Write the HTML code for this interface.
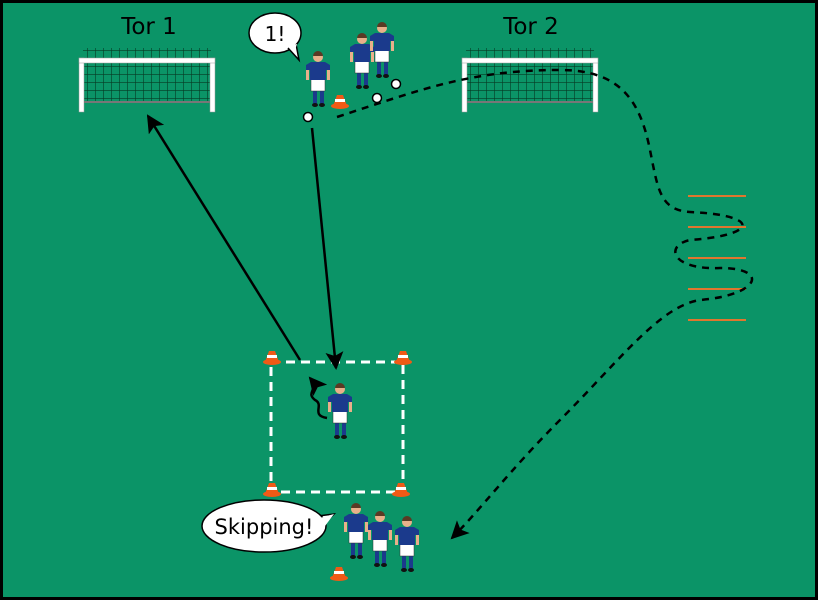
<!DOCTYPE html>
<html><head><style>
html,body{margin:0;padding:0;background:#000}
svg{display:block}
</style></head><body>
<svg width="818" height="600" viewBox="0 0 818 600" xmlns="http://www.w3.org/2000/svg">
<defs>
<marker id="ah2" markerWidth="18" markerHeight="18" refX="16" refY="9" orient="auto" markerUnits="userSpaceOnUse"><path d="M0,0 L18,9 L0,18 L4,9 z" fill="#000"/></marker>
<g id="pl">
<rect x="-5" y="28" width="4" height="14" fill="#1b3a8c"/><rect x="2" y="28" width="4" height="14" fill="#1b3a8c"/>
<ellipse cx="-3" cy="43" rx="3" ry="2" fill="#111"/><ellipse cx="4" cy="43" rx="3" ry="2" fill="#111"/>
<rect x="-7" y="17" width="14" height="12" fill="#fff" stroke="#333" stroke-width="0.5"/>
<rect x="-12" y="5" width="3" height="13" fill="#e9b08a"/><rect x="9" y="5" width="3" height="13" fill="#e9b08a"/>
<path d="M-12,3 L-7,0 L7,0 L12,3 L12,8 L8,8 L8,18 L-8,18 L-8,8 L-12,8 z" fill="#1b3a8c"/>
<circle cx="0" cy="-5" r="5" fill="#e9b08a"/><path d="M-5,-6 A5,5 0 0 1 5,-6 z" fill="#5a3a24"/>
</g>
<g id="cone"><path d="M-3,-9 L3,-9 L7,2 L-7,2 z" fill="#f05a16"/><rect x="-5" y="-5" width="10" height="3" fill="#fff"/><ellipse cx="0" cy="2" rx="9" ry="3" fill="#f05a16"/></g>
<pattern id="net" width="8" height="8" patternUnits="userSpaceOnUse"><path d="M8,0 L0,0 0,8" fill="none" stroke="#063a24" stroke-width="1.2"/></pattern>
<g id="goal">
<rect x="4" y="-10" width="128" height="10" fill="url(#net)"/>
<rect x="4" y="0" width="128" height="44" fill="url(#net)"/>
<rect x="0" y="0" width="5" height="54" fill="#fff" stroke="#999" stroke-width="0.5"/>
<rect x="131" y="0" width="5" height="54" fill="#fff" stroke="#999" stroke-width="0.5"/>
<rect x="0" y="0" width="136" height="5" fill="#fff" stroke="#999" stroke-width="0.5"/>
<line x1="5" y1="44" x2="131" y2="44" stroke="#777" stroke-width="2"/>
</g>
</defs>
<rect x="0" y="0" width="818" height="600" fill="#000"/>
<rect x="3" y="3" width="812" height="594" fill="#0b9467"/>
<text x="149" y="34" font-family="DejaVu Sans, sans-serif" font-size="23" text-anchor="middle" fill="#000">Tor 1</text>
<text x="531" y="34" font-family="DejaVu Sans, sans-serif" font-size="23" text-anchor="middle" fill="#000">Tor 2</text>
<use href="#goal" x="79" y="58"/>
<use href="#goal" x="462" y="58"/>
<!-- speech 1 -->
<ellipse cx="275" cy="33" rx="26" ry="20" fill="#fff" stroke="#000" stroke-width="1.5"/>
<path d="M288,48 L299,60 L296,44" fill="#fff" stroke="#000" stroke-width="1.5"/>
<path d="M286,46 L297,44 L295,50" fill="#fff" stroke="none"/>
<text x="275" y="41" font-family="DejaVu Sans, sans-serif" font-size="20" text-anchor="middle">1!</text>
<!-- ladder -->
<g stroke="#e0762e" stroke-width="2"><line x1="688" y1="196" x2="746" y2="196"/><line x1="688" y1="227" x2="746" y2="227"/><line x1="688" y1="258" x2="746" y2="258"/><line x1="688" y1="289" x2="746" y2="289"/><line x1="688" y1="320" x2="746" y2="320"/></g>
<!-- dashed path -->
<path d="M337,117 C420,90 470,70 560,70 C620,70 640,100 650,150 C658,190 660,210 690,212 C760,215 760,235 690,240 C665,245 670,270 720,268 C770,268 760,295 700,300 C660,306 620,360 560,420 C510,470 480,510 452,538" fill="none" stroke="#000" stroke-width="2.5" stroke-dasharray="7,6" marker-end="url(#ah2)"/>
<!-- square -->
<rect x="271" y="362" width="132" height="130" fill="none" stroke="#fff" stroke-width="3" stroke-dasharray="9,6"/>
<use href="#cone" x="272" y="360"/><use href="#cone" x="403" y="360"/>
<use href="#cone" x="272" y="492"/><use href="#cone" x="401" y="492"/>
<use href="#cone" x="339" y="576"/><use href="#cone" x="340" y="104"/>
<!-- arrows -->
<line x1="300" y1="360" x2="148" y2="116" stroke="#000" stroke-width="2.5" marker-end="url(#ah2)"/>
<line x1="312" y1="128" x2="336" y2="368" stroke="#000" stroke-width="2.5" marker-end="url(#ah2)"/>
<path d="M327,418 C310,415 325,405 315,400 C305,392 320,390 310,378" fill="none" stroke="#000" stroke-width="2.5" marker-end="url(#ah2)"/>
<!-- players -->
<use href="#pl" x="318" y="62"/>
<use href="#pl" x="362" y="44"/>
<use href="#pl" x="382" y="33"/>
<use href="#pl" x="340" y="394"/>
<use href="#pl" x="356" y="514"/>
<use href="#pl" x="380" y="522"/>
<use href="#pl" x="407" y="527"/>
<!-- balls -->
<g fill="#fff" stroke="#000" stroke-width="1.5"><circle cx="308" cy="117" r="4.5"/><circle cx="377" cy="98" r="4.5"/><circle cx="396" cy="84" r="4.5"/></g>
<!-- speech skipping -->
<path d="M318,516 L334,514 L318,530" fill="#fff" stroke="#000" stroke-width="1.5"/>
<ellipse cx="264" cy="526" rx="62" ry="26" fill="#fff" stroke="#000" stroke-width="1.5"/>
<path d="M320,518 L334,514 L322,530" fill="#fff" stroke="none"/>
<text x="264" y="534" font-family="DejaVu Sans, sans-serif" font-size="21" text-anchor="middle">Skipping!</text>
</svg>
</body></html>
